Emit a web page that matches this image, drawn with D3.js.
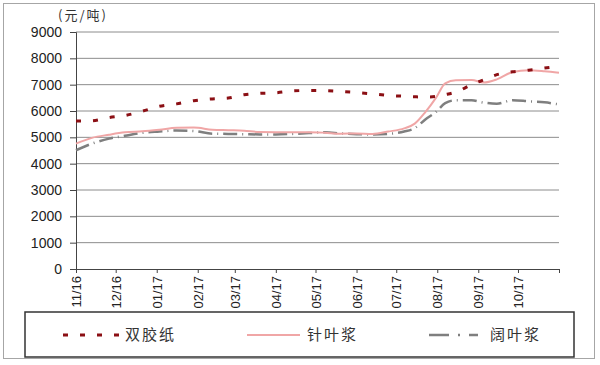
<!DOCTYPE html>
<html>
<head>
<meta charset="utf-8">
<script src="https://cdn.jsdelivr.net/npm/d3@7"></script>
<style>
  body { margin: 0; background: #fff; }
  text { font-family: "Liberation Sans", Arial, sans-serif; }
  .cjk { font-family: "Noto Sans CJK SC", sans-serif; }
</style>
</head>
<body>
<div id="my_dataviz"></div>
<script>
// data (yuan / ton)
const dates = ["2016-11-01","2016-11-13","2016-11-26","2016-12-08","2016-12-21",
  "2017-01-03","2017-01-16","2017-01-29","2017-02-12","2017-02-24","2017-03-08",
  "2017-03-20","2017-04-01","2017-04-13","2017-04-26","2017-05-08","2017-05-20",
  "2017-06-01","2017-06-13","2017-06-25","2017-07-07","2017-07-15","2017-07-23",
  "2017-07-31","2017-08-07","2017-08-15","2017-08-27","2017-09-05","2017-09-15",
  "2017-09-27","2017-10-09","2017-10-21","2017-11-01"];

const offsetPaper = [5620,5630,5750,5830,5990,6180,6270,6390,6460,6490,6620,
  6670,6690,6760,6780,6770,6740,6700,6650,6590,6560,6540,6530,6550,6620,6720,
  7000,7180,7380,7490,7550,7630,7700];

const softwood = [4760,4980,5100,5190,5230,5290,5360,5370,5290,5270,5250,
  5200,5195,5195,5195,5175,5140,5145,5130,5220,5340,5520,5960,6500,7050,7170,
  7175,7080,7200,7480,7550,7510,7450];

const hardwood = [4510,4760,4950,5060,5170,5220,5260,5240,5140,5130,5120,
  5110,5110,5130,5160,5190,5150,5120,5110,5130,5220,5350,5680,5960,6300,6410,
  6410,6320,6280,6410,6370,6330,6250];

const yTicks = [0,1000,2000,3000,4000,5000,6000,7000,8000,9000];
const seriesNames = ["双胶纸","针叶浆","阔叶浆"];
const unitLabel = "(元/吨)";

// set the dimensions and margins of the graph
const margin = {top: 32, right: 41, bottom: 96, left: 76},
    width = 600 - margin.left - margin.right,
    height = 365 - margin.top - margin.bottom;

const root = d3.select("#my_dataviz")
    .append("svg")
    .attr("width", 600)
    .attr("height", 365);

// outer frame
root.append("rect")
    .attr("x", 3.5).attr("y", 3.5)
    .attr("width", 591).attr("height", 355)
    .attr("fill", "none").attr("stroke", "#a6a6a6");

const svg = root.append("g")
    .attr("transform", `translate(${margin.left},${margin.top})`);

const parse = d3.timeParse("%Y-%m-%d");
const x = d3.scaleTime()
    .domain([parse("2016-11-01"), parse("2017-11-01")])
    .range([0, width]);
const y = d3.scaleLinear()
    .domain([0, 9000])
    .range([height, 0]);

// gridlines
svg.append("g")
    .selectAll("line")
    .data(yTicks.slice(1))
    .join("line")
    .attr("x1", 0).attr("x2", width)
    .attr("y1", d => y(d)).attr("y2", d => y(d))
    .attr("stroke", "#8c8c8c").attr("stroke-width", 1);

// Y axis
const yAxis = svg.append("g")
    .call(d3.axisLeft(y).tickValues(yTicks).tickSize(6).tickPadding(8).tickFormat(d3.format("d")));
yAxis.selectAll("text").style("font-size", "14px").attr("fill", "#222");
yAxis.selectAll("line, path").attr("stroke", "#444");

// X axis, monthly ticks
const months = d3.timeMonth.range(parse("2016-11-01"), parse("2017-11-02"));
const xAxis = svg.append("g")
    .attr("transform", `translate(0, ${height})`)
    .call(d3.axisBottom(x).tickValues(months).tickSize(4).tickSizeOuter(0)
        .tickFormat(d => d < parse("2017-11-01") ? d3.timeFormat("%m/%y")(d) : ""));
xAxis.selectAll("line, path").attr("stroke", "#444");
xAxis.selectAll("text")
    .style("font-size", "13px").attr("fill", "#222")
    .attr("text-anchor", "end")
    .attr("transform", "rotate(-90)")
    .attr("x", -7).attr("y", 0).attr("dy", "0.35em");

// unit label
svg.append("text")
    .attr("class", "cjk")
    .attr("x", -18).attr("y", -12)
    .style("font-size", "13px").style("letter-spacing", "2px").attr("fill", "#333")
    .text(unitLabel);

// lines
const styles = [
  {data: offsetPaper, color: "#8b0f14", w: 3, dash: "5,12"},
  {data: softwood, color: "#f0a6a6", w: 2, dash: null},
  {data: hardwood, color: "#7f7f7f", w: 2.5, dash: "14,5,1,5"}
];

const line = d3.line()
    .x((d, i) => x(parse(dates[i])))
    .y(d => y(d))
    .curve(d3.curveMonotoneX);

// draw hardwood and softwood below the paper line
[2, 1, 0].forEach(k => {
  const s = styles[k];
  svg.append("path")
      .datum(s.data)
      .attr("fill", "none")
      .attr("stroke", s.color)
      .attr("stroke-width", s.w)
      .attr("stroke-dasharray", s.dash)
      .attr("d", line);
});

// legend box
const legend = root.append("g");
legend.append("rect")
    .attr("x", 25).attr("y", 312)
    .attr("width", 549).attr("height", 45)
    .attr("fill", "none").attr("stroke", "#333").attr("stroke-width", 1.5);

const legendX = [63, 247, 429];
const legendW = [56, 53, 49];
const textX = [125, 307, 490];
styles.forEach((s, i) => {
  legend.append("line")
      .attr("x1", legendX[i]).attr("x2", legendX[i] + legendW[i])
      .attr("y1", 335).attr("y2", 335)
      .attr("stroke", s.color).attr("stroke-width", s.w)
      .attr("stroke-dasharray", i === 2 ? "20,9,2,9" : s.dash);
  legend.append("text")
      .attr("class", "cjk")
      .attr("x", textX[i]).attr("y", 335)
      .attr("dy", "0.35em")
      .style("font-size", "15px").style("letter-spacing", "2px").attr("fill", "#333")
      .text(seriesNames[i]);
});
</script>
</body>
</html>
